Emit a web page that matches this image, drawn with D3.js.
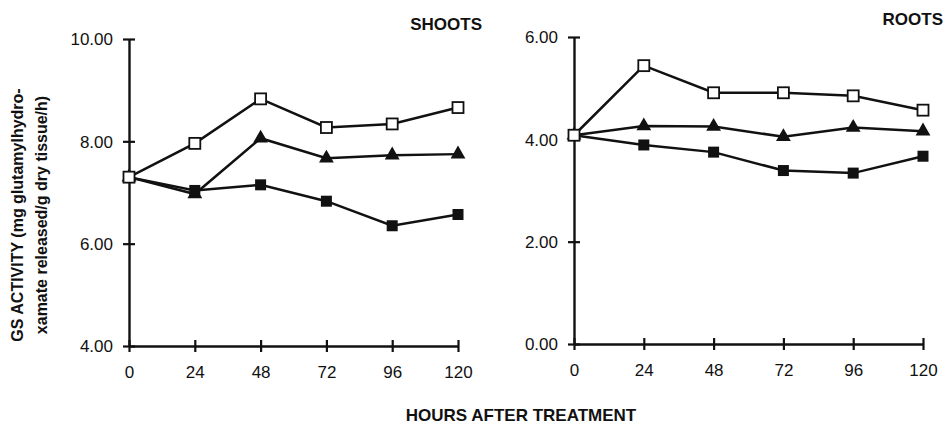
<!DOCTYPE html>
<html>
<head>
<meta charset="utf-8">
<script src="https://cdn.jsdelivr.net/npm/d3@7"></script>
<style>
  html, body { margin: 0; padding: 0; background: #fff; }
  svg text { font-family: "Liberation Sans", Arial, Helvetica, sans-serif; fill: #111; }
</style>
</head>
<body>
<svg id="chart" width="947" height="426"></svg>
<script>
// Sampling times (hours after treatment)
const hours = [0, 24, 48, 72, 96, 120];

// GS activity, shoots
const shootsOpenSquare   = [7.30, 7.96, 8.83, 8.27, 8.34, 8.66];
const shootsTriangle     = [7.30, 6.97, 8.06, 7.67, 7.73, 7.75];
const shootsFilledSquare = [7.30, 7.04, 7.15, 6.83, 6.35, 6.57];

// GS activity, roots
const rootsOpenSquare   = [4.08, 5.44, 4.91, 4.91, 4.85, 4.57];
const rootsTriangle     = [4.08, 4.26, 4.25, 4.05, 4.23, 4.16];
const rootsFilledSquare = [4.08, 3.89, 3.75, 3.39, 3.34, 3.67];

// Axis ticks
const shootsTicks = [4, 6, 8, 10];
const rootsTicks  = [0, 2, 4, 6];
const hourTicks   = [0, 24, 48, 72, 96, 120];

const svg = d3.select("#chart");
const fmt = d3.format(".2f");

const panels = [
  {
    title: "SHOOTS", titleX: 482, titleY: 30,
    x: d3.scaleLinear().domain([0, 120]).range([129, 458]),
    y: d3.scaleLinear().domain([4, 10]).range([346, 39]),
    ticks: shootsTicks,
    series: [
      { values: shootsTriangle, marker: "triangle" },
      { values: shootsFilledSquare, marker: "filled" },
      { values: shootsOpenSquare, marker: "open" }
    ]
  },
  {
    title: "ROOTS", titleX: 943, titleY: 25,
    x: d3.scaleLinear().domain([0, 120]).range([574, 923]),
    y: d3.scaleLinear().domain([0, 6]).range([344, 37]),
    ticks: rootsTicks,
    series: [
      { values: rootsTriangle, marker: "triangle" },
      { values: rootsFilledSquare, marker: "filled" },
      { values: rootsOpenSquare, marker: "open" }
    ]
  }
];

panels.forEach(p => {
  const g = svg.append("g");
  const x0 = p.x.range()[0];
  const yBase = p.y.range()[0];

  // Y axis with ticks crossing the axis line
  const yAxis = g.append("g")
    .attr("transform", `translate(${x0},0)`)
    .call(d3.axisLeft(p.y).tickValues(p.ticks).tickFormat(fmt).tickSizeOuter(0).tickSizeInner(6).tickPadding(10));
  yAxis.selectAll(".tick line").attr("x1", 6);
  yAxis.selectAll("text").style("font-size", "17px").attr("dy", "0.35em");

  // X axis with ticks crossing the axis line
  const xAxis = g.append("g")
    .attr("transform", `translate(0,${yBase})`)
    .call(d3.axisBottom(p.x).tickValues(hourTicks).tickFormat(d3.format("d")).tickSizeOuter(0).tickSizeInner(6).tickPadding(14));
  xAxis.selectAll(".tick line").attr("y1", -6);
  xAxis.selectAll("text").style("font-size", "17px");

  [yAxis, xAxis].forEach(a => {
    a.select(".domain").attr("stroke", "#111").attr("stroke-width", 2.4);
    a.selectAll(".tick line").attr("stroke", "#111").attr("stroke-width", 2.2);
  });

  // Panel title
  g.append("text")
    .attr("x", p.titleX).attr("y", p.titleY)
    .attr("text-anchor", "end")
    .style("font-size", "17px").style("font-weight", "bold")
    .text(p.title);

  const line = d3.line().x((d, i) => p.x(hours[i])).y(d => p.y(d));

  // Connecting lines
  p.series.forEach(s => {
    g.append("path")
      .datum(s.values)
      .attr("fill", "none").attr("stroke", "#111").attr("stroke-width", 2.5)
      .attr("d", line);
  });

  // Markers
  p.series.forEach(s => {
    const mg = g.append("g");
    s.values.forEach((v, i) => {
      const cx = p.x(hours[i]), cy = p.y(v);
      if (s.marker === "triangle") {
        mg.append("path")
          .attr("d", d3.symbol(d3.symbolTriangle, 95)())
          .attr("transform", `translate(${cx},${cy})`)
          .attr("fill", "#111");
      } else if (s.marker === "filled") {
        mg.append("rect")
          .attr("x", cx - 5.5).attr("y", cy - 5.5).attr("width", 11).attr("height", 11)
          .attr("fill", "#111");
      } else {
        mg.append("rect")
          .attr("x", cx - 5.5).attr("y", cy - 5.5).attr("width", 11).attr("height", 11)
          .attr("fill", "#fff").attr("stroke", "#111").attr("stroke-width", 1.8);
      }
    });
  });
});

// Shared axis titles
svg.append("text")
  .attr("x", 521).attr("y", 421)
  .attr("text-anchor", "middle")
  .style("font-size", "17px").style("font-weight", "bold")
  .text("HOURS AFTER TREATMENT");

const yTitle = svg.append("text")
  .attr("transform", "translate(0,215) rotate(-90)")
  .attr("text-anchor", "middle")
  .style("font-size", "16px").style("font-weight", "bold");
yTitle.append("tspan").attr("x", 0).attr("y", 23).text("GS ACTIVITY (mg glutamylhydro-");
yTitle.append("tspan").attr("x", 0).attr("y", 47).text("xamate released/g dry tissue/h)");
</script>
</body>
</html>
